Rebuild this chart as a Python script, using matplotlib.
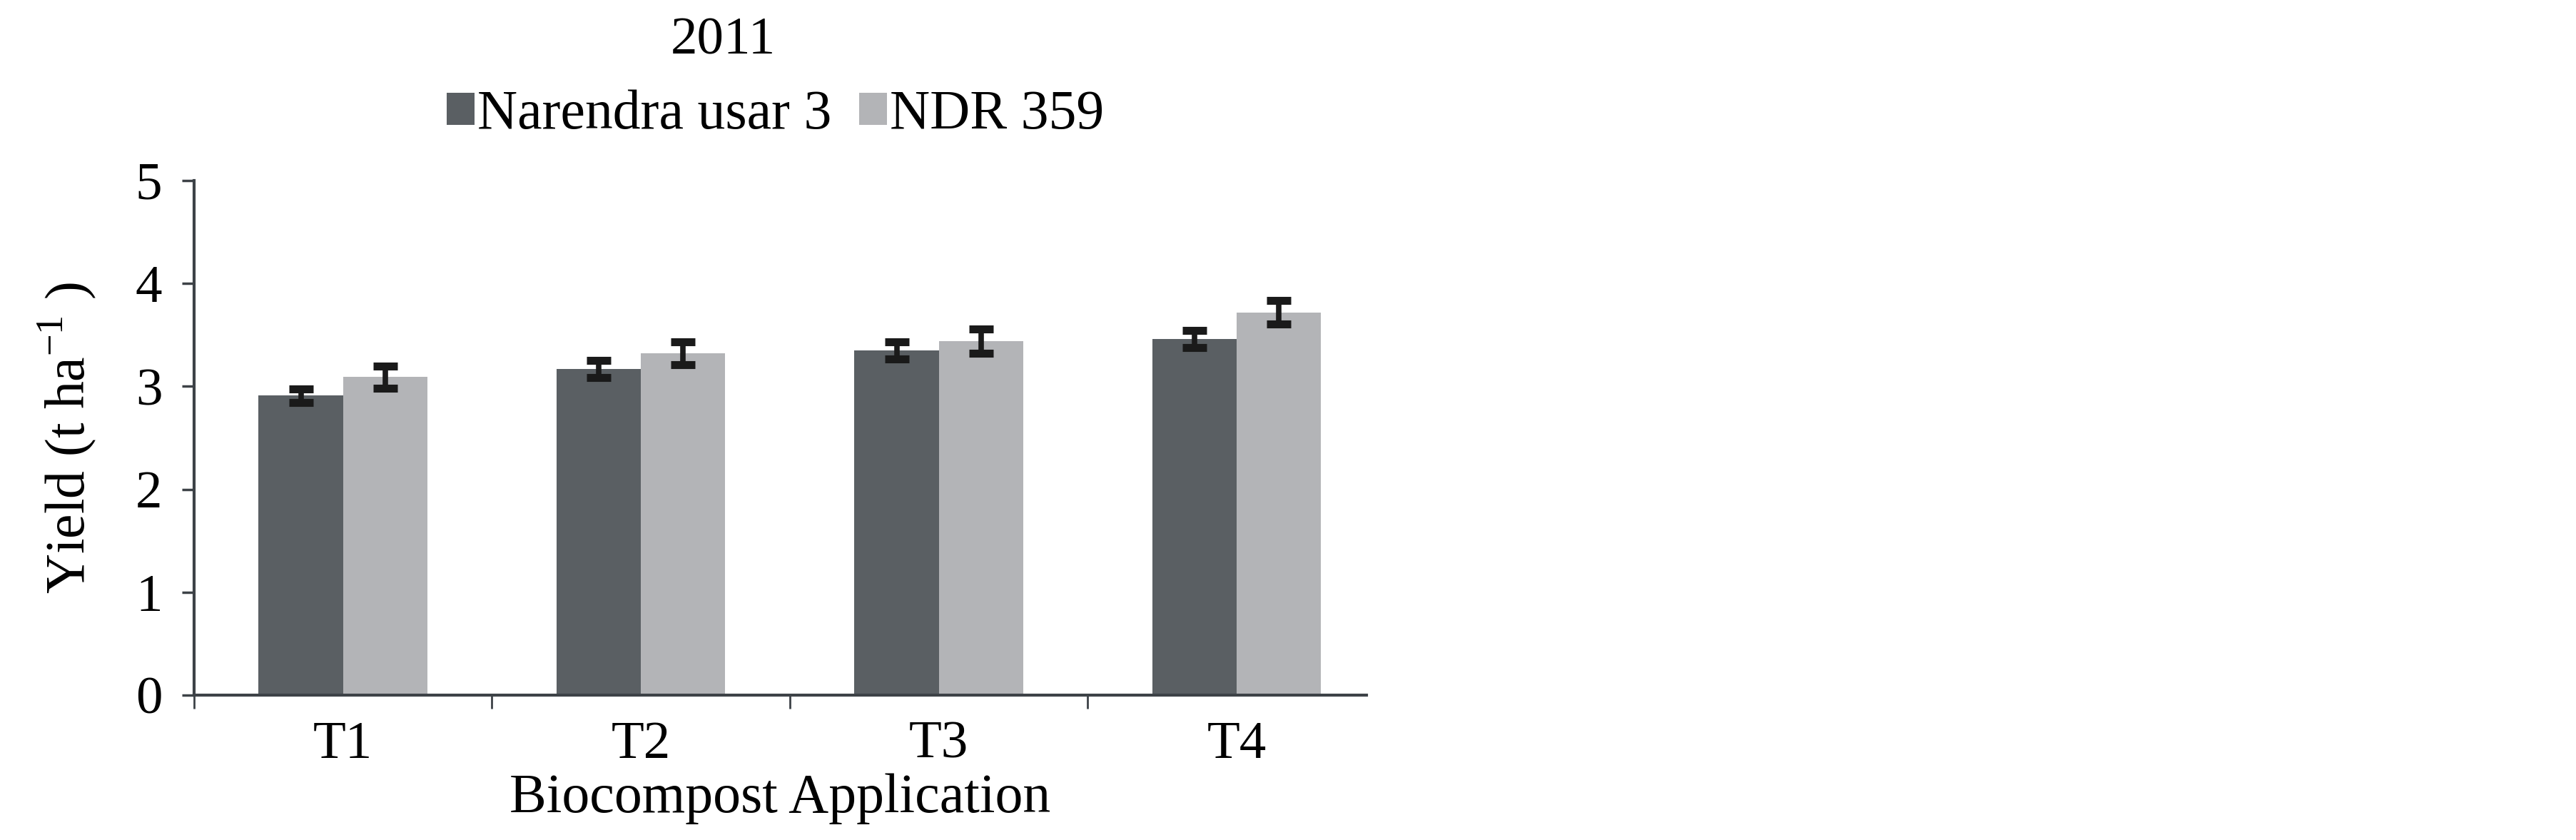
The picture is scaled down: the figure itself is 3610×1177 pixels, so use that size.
import numpy as np
import matplotlib
matplotlib.use('agg')
import matplotlib.pyplot as plt

plt.rcParams['font.family'] = ['Liberation Serif', 'DejaVu Serif']
plt.rcParams['mathtext.fontset'] = 'custom'
plt.rcParams['mathtext.rm'] = 'Liberation Serif'

treatments = ['T1', 'T2', 'T3', 'T4']
series_names = ['Narendra usar 3', 'NDR 359']
narendra = [2.91, 3.17, 3.35, 3.46]
ndr = [3.09, 3.32, 3.44, 3.72]
narendra_err = [0.066, 0.084, 0.086, 0.084]
ndr_err = [0.11, 0.11, 0.116, 0.112]

dark = '#5a5f63'
light = '#b3b4b7'
axis_col = '#3d4247'

fig = plt.figure(figsize=(36.1, 11.77), dpi=100)
ax = fig.add_axes([0.0753, 0.1725, 0.4552, 0.6125])

x = np.arange(len(treatments))
w = 0.283
err_kw = dict(ecolor='#1a1a1a', elinewidth=5.5, capsize=12, capthick=8)
ax.bar(x - w / 2, narendra, w, color=dark, yerr=narendra_err,
       error_kw=err_kw, label=series_names[0])
ax.bar(x + w / 2, ndr, w, color=light, yerr=ndr_err,
       error_kw=err_kw, label=series_names[1])

ax.set_xlim(-0.5, 3.436)
ax.set_ylim(0, 5)
ax.set_yticks(range(6))

# category boundaries as major ticks, labels on minor ticks
ax.set_xticks([-0.5, 0.5, 1.5, 2.5])
ax.set_xticklabels([])
ax.set_xticks(x, minor=True)
ax.set_xticklabels(treatments, minor=True)
ax.tick_params(axis='x', which='major', length=14, width=2, color=axis_col, direction='out')
ax.tick_params(axis='x', which='minor', length=0, pad=26, labelsize=54)
ax.tick_params(axis='y', length=12, width=2.5, color=axis_col, pad=20, labelsize=54)

for s in ['top', 'right']:
    ax.spines[s].set_visible(False)
for s in ['left', 'bottom']:
    ax.spines[s].set_color(axis_col)
    ax.spines[s].set_linewidth(3)

ax.set_xlabel('Biocompost Application', fontsize=56, labelpad=4)
ax.set_ylabel(r'Yield (t ha$^{\mathregular{-1}}$ )', fontsize=56, labelpad=38)

fig.text(0.2806, 0.951, '2011', ha='center', va='center', fontsize=54)
fig.legend(loc='center', bbox_to_anchor=(0.301, 0.863), ncol=2, frameon=False,
           fontsize=56, handlelength=0.5, handleheight=0.5, handletextpad=0.05,
           columnspacing=0.5, borderpad=0)

fig.savefig('out.png', dpi=100)
